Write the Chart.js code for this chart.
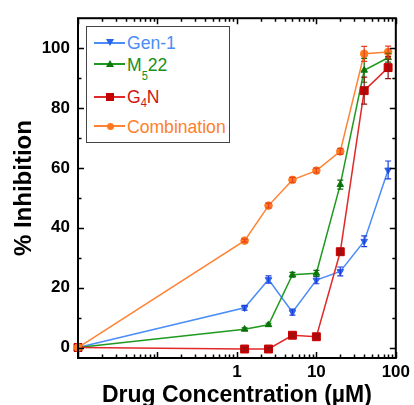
<!DOCTYPE html>
<html>
<head>
<meta charset="utf-8">
<script src="https://cdn.jsdelivr.net/npm/chart.js@4"></script>
<style>
  html, body { margin: 0; padding: 0; background: #fff; }
  #wrap { position: relative; width: 414px; height: 405px; overflow: hidden; }
  #chart { position: absolute; left: 0; top: 0; }
  #legend { position: absolute; left: 86px; top: 26px; width: 144px; height: 117px;
            border: 1.5px solid #444; box-sizing: border-box; background: #fff; }
  .leg-line { position: absolute; left: 94px; width: 31px; height: 1.5px; }
  .leg-mark { position: absolute; }
  .leg-text { position: absolute; left: 127px; font: 19px "Liberation Sans", Arial, sans-serif;
              line-height: 19px; white-space: nowrap; transform: scaleX(0.925); transform-origin: 0 50%; }
  .sub { display: inline-block; position: relative; font-size: 12px; }
</style>
</head>
<body>
<div id="wrap">
  <canvas id="chart" width="414" height="405"></canvas>
  <div id="legend"></div>

  <div class="leg-line" style="top:42px; background:#4a8df8"></div>
  <div class="leg-mark" style="left:106px; top:39px; border-left:4px solid transparent; border-right:4px solid transparent; border-top:7px solid #2a62ee"></div>
  <div class="leg-text" style="top:33px; color:#4a8df8">Gen-1</div>

  <div class="leg-line" style="top:63px; background:#1f9a1f"></div>
  <div class="leg-mark" style="left:106px; top:60px; border-left:4px solid transparent; border-right:4px solid transparent; border-bottom:7px solid #0b7a0b"></div>
  <div class="leg-text" style="top:55px; color:#1a8f1a">M<span class="sub" style="top:9px">5</span>22</div>

  <div class="leg-line" style="top:96px; background:#e02a2a"></div>
  <div class="leg-mark" style="left:106px; top:93px; width:8px; height:8px; background:#c40000"></div>
  <div class="leg-text" style="top:87px; color:#d01515">G<span class="sub" style="top:4px">4</span>N</div>

  <div class="leg-line" style="top:125px; background:#ff8333"></div>
  <div class="leg-mark" style="left:107px; top:122.5px; width:7px; height:7px; border-radius:50%; background:#ff7a1f"></div>
  <div class="leg-text" style="top:117px; color:#ff7f2a">Combination</div>
</div>

<script>
// drug concentrations in µM; the untreated control (0 µM) is plotted at the axis minimum 0.01
const concentrations = [0.01, 1.25, 2.5, 5, 10, 20, 40, 80];

const gen1 = [0, 13.3, 22.7, 11.8, 22.5, 25.4, 35.5, 59.3];
const gen1Err = [0, 0.8, 1.2, 1, 1.2, 1.5, 1.8, 3];

const m522 = [0, 6.1, 7.6, 24.3, 24.8, 54.4, 92.6, 96.8];
const m522Err = [0, 0.5, 0.5, 0.8, 1, 1.5, 4, 1.5];

const g4n = [0, -0.5, -0.5, 4.1, 3.6, 32, 85.8, 93.5];
const g4nErr = [0, 0.5, 0.5, 0.5, 0.5, 1, 4.5, 3.7];

const combination = [0, 35.7, 47.4, 56, 59.1, 65.5, 98.1, 98.7];
const combinationErr = [0, 0.5, 0.8, 0.8, 0.8, 1, 2.5, 2];

const xLabelTicks = [1, 10, 100];
const xMajorTicks = [0.01, 0.1, 1, 10, 100];
const yLabelTicks = [0, 20, 40, 60, 80, 100];
const yMinorTicks = [10, 30, 50, 70, 90];

const FONT = '"Liberation Sans", Arial, sans-serif';

function points(values) {
    return concentrations.map((c, i) => ({ x: c, y: values[i] }));
}

// error bars drawn through the chart's own scales
const errorBars = {
    id: 'errorBars',
    afterDatasetsDraw(chart) {
        const ctx = chart.ctx;
        const xs = chart.scales.x;
        const ys = chart.scales.y;
        chart.data.datasets.forEach(ds => {
            if (!ds.errors) return;
            ctx.save();
            ctx.strokeStyle = ds.errorColor;
            ctx.lineWidth = 1.2;
            ds.data.forEach((p, i) => {
                const e = ds.errors[i];
                if (!e) return;
                const px = xs.getPixelForValue(p.x);
                const top = ys.getPixelForValue(p.y + e);
                const bot = ys.getPixelForValue(p.y - e);
                ctx.beginPath();
                ctx.moveTo(px, top); ctx.lineTo(px, bot);
                ctx.moveTo(px - 3, top); ctx.lineTo(px + 3, top);
                ctx.moveTo(px - 3, bot); ctx.lineTo(px + 3, bot);
                ctx.stroke();
            });
            ctx.restore();
        });
    }
};

// frame and inward ticks on all four sides
const frameTicks = {
    id: 'frameTicks',
    afterDraw(chart) {
        const ctx = chart.ctx;
        const a = chart.chartArea;
        const xs = chart.scales.x;
        const ys = chart.scales.y;
        ctx.save();
        ctx.strokeStyle = '#000';
        ctx.lineWidth = 1.5;
        ctx.beginPath();
        const xTick = (v, len) => {
            const px = Math.round(xs.getPixelForValue(v)) + 0.5;
            ctx.moveTo(px, a.bottom); ctx.lineTo(px, a.bottom - len);
            ctx.moveTo(px, a.top); ctx.lineTo(px, a.top + len);
        };
        const yTick = (v, len) => {
            const py = Math.round(ys.getPixelForValue(v)) + 0.5;
            ctx.moveTo(a.left, py); ctx.lineTo(a.left + len, py);
            ctx.moveTo(a.right, py); ctx.lineTo(a.right - len, py);
        };
        xMajorTicks.forEach(v => xTick(v, 6));
        xMajorTicks.slice(0, -1).forEach(d => {
            for (let k = 2; k <= 9; k++) xTick(d * k, 3.5);
        });
        yLabelTicks.forEach(v => yTick(v, 6));
        yMinorTicks.forEach(v => yTick(v, 3.5));
        ctx.stroke();
        ctx.lineWidth = 2;
        ctx.strokeRect(a.left, a.top, a.right - a.left, a.bottom - a.top);
        ctx.restore();
    }
};

const ctx = document.getElementById('chart').getContext('2d');
new Chart(ctx, {
    type: 'line',
    data: {
        datasets: [
            {
                label: 'Gen-1', data: points(gen1), errors: gen1Err, errorColor: '#1d3fd6',
                borderColor: '#4a8df8', backgroundColor: '#2a62ee', pointBorderColor: '#2a62ee',
                pointStyle: 'triangle', rotation: 180, pointRadius: 3.8, order: 3
            },
            {
                label: 'M522', data: points(m522), errors: m522Err, errorColor: '#0b6e0b',
                borderColor: '#1f9a1f', backgroundColor: '#0b7a0b', pointBorderColor: '#0b7a0b',
                pointStyle: 'triangle', pointRadius: 3.8, order: 2
            },
            {
                label: 'G4N', data: points(g4n), errors: g4nErr, errorColor: '#8e1515',
                borderColor: '#e02a2a', backgroundColor: '#c40000', pointBorderColor: '#c40000',
                pointStyle: 'rect', pointRadius: 5.6, order: 1
            },
            {
                label: 'Combination', data: points(combination), errors: combinationErr, errorColor: '#e8401a',
                borderColor: '#ff8333', backgroundColor: '#ff7a1f', pointBorderColor: '#ff7a1f',
                pointStyle: 'circle', pointRadius: 3.8, order: 0
            }
        ]
    },
    options: {
        responsive: false,
        animation: false,
        layout: { padding: { left: 0, top: 15, right: 15, bottom: 0 } },
        elements: {
            line: { borderWidth: 1.5, tension: 0 },
            point: { borderWidth: 1 }
        },
        datasets: { line: { clip: false } },
        scales: {
            x: {
                type: 'logarithmic',
                min: 0.01,
                max: 100,
                afterBuildTicks: s => { s.ticks = xLabelTicks.map(v => ({ value: v })); },
                afterFit: s => { s.height = 47; },
                grid: { display: false, drawTicks: false },
                border: { display: false },
                ticks: {
                    color: '#000', padding: 4, autoSkip: false, maxRotation: 0,
                    font: { family: FONT, size: 17, weight: 'bold' },
                    callback: v => String(v)
                },
                title: {
                    display: true, text: 'Drug Concentration (µM)', color: '#000',
                    font: { family: FONT, size: 23, weight: 'bold', lineHeight: 0.8 },
                    padding: { top: 0, bottom: 0 }
                }
            },
            y: {
                min: -3.5,
                max: 110,
                afterBuildTicks: s => { s.ticks = yLabelTicks.map(v => ({ value: v })); },
                afterFit: s => { s.width = 78; },
                grid: { display: false, drawTicks: false },
                border: { display: false },
                ticks: {
                    color: '#000', padding: 8,
                    font: { family: FONT, size: 17, weight: 'bold' }
                },
                title: {
                    display: true, text: '% Inhibition', color: '#000',
                    font: { family: FONT, size: 24, weight: 'bold' },
                    padding: { top: 9.6, bottom: 0 }
                }
            }
        },
        plugins: {
            legend: { display: false },
            tooltip: { enabled: false }
        }
    },
    plugins: [errorBars, frameTicks]
});
</script>
</body>
</html>
